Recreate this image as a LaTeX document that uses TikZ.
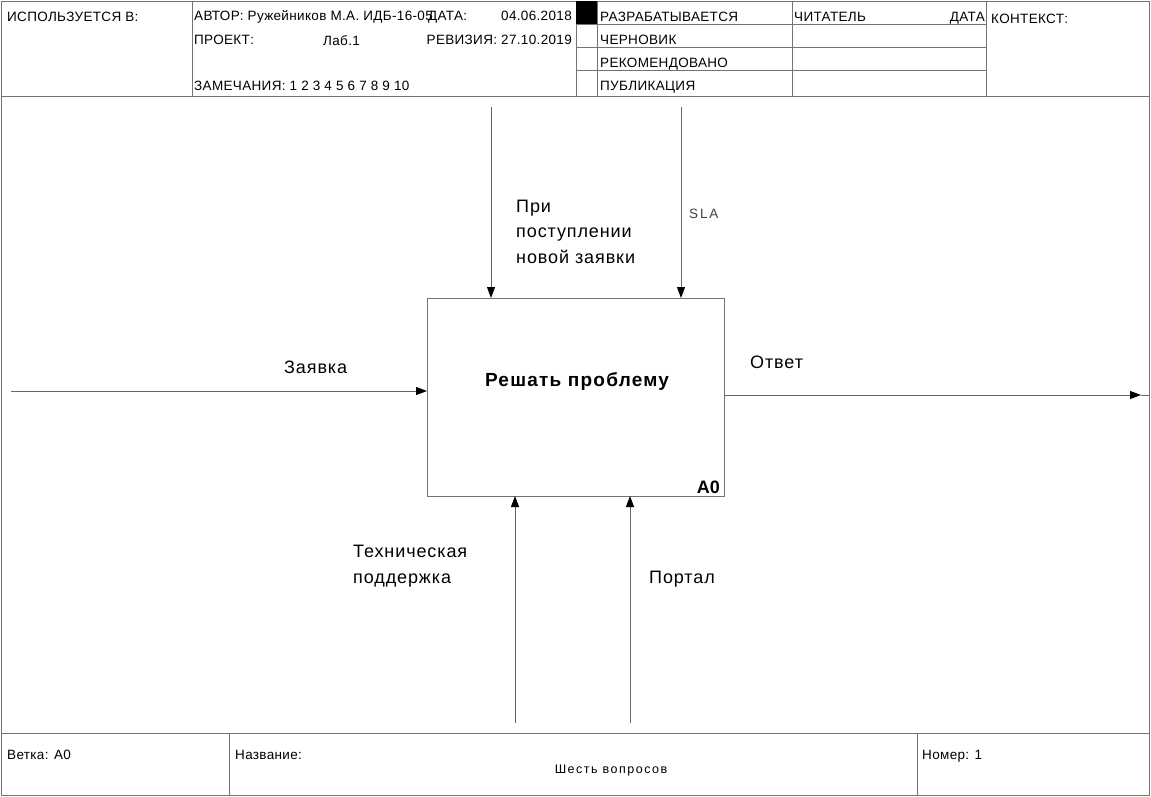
\documentclass[tikz,border=0pt]{standalone}
\usepackage{fontspec}
\setmainfont{Liberation Sans}
\usetikzlibrary{arrows.meta}
\begin{document}
\begin{tikzpicture}[x=1pt,y=-1pt,
  frame/.style={draw=black!55,line width=0.9pt},
  grid/.style={draw=black!55,line width=0.8pt},
  small/.style={font=\fontsize{13.5}{15}\selectfont\addfontfeatures{LetterSpace=2.5},inner sep=0pt,anchor=base west},
  label/.style={font=\fontsize{18}{25.5}\selectfont\addfontfeatures{LetterSpace=5},inner sep=0pt,anchor=base west,align=left},
  flow/.style={draw=black!60,line width=0.9pt,-{Triangle[length=11pt,width=8pt,color=black]}}]
\useasboundingbox (0,0) rectangle (1151,796);
% outer frame and title blocks
\draw[frame] (1,1) rectangle (1149,795);
\draw[frame] (1,96) -- (1149,96);
\draw[frame] (1,733) -- (1149,733);
\draw[grid] (192,1) -- (192,96);
\draw[grid] (576,1) -- (576,96);
\draw[grid] (597,1) -- (597,96);
\draw[grid] (792,1) -- (792,96);
\draw[grid] (986,1) -- (986,96);
\foreach \yy in {24,47,70} \draw[grid] (576,\yy) -- (986,\yy);
\fill[black] (576,1) rectangle (597,24);
\draw[grid] (229,733) -- (229,795);
\draw[grid] (917,733) -- (917,795);

% header texts
\node[small] (used) at (7,21) {ИСПОЛЬЗУЕТСЯ В:};
\node[small] (author) at (194,20) {АВТОР: Ружейников М.А. ИДБ-16-05};
\node[small] (date) at (428,20) {ДАТА:};
\node[small,anchor=base east] (dateval) at (572,20) {04.06.2018};
\node[small] (proj) at (194,44) {ПРОЕКТ:};
\node[small] (projval) at (323,45) {Лаб.1};
\node[small,anchor=base east] (rev) at (572,44) {РЕВИЗИЯ: 27.10.2019};
\node[small] (notes) at (194,90) {ЗАМЕЧАНИЯ: 1 2 3 4 5 6 7 8 9 10};
\node[small] (st1) at (600,21) {РАЗРАБАТЫВАЕТСЯ};
\node[small] (st2) at (600,44) {ЧЕРНОВИК};
\node[small] (st3) at (600,67) {РЕКОМЕНДОВАНО};
\node[small] (st4) at (600,90) {ПУБЛИКАЦИЯ};
\node[small] (reader) at (794,21) {ЧИТАТЕЛЬ};
\node[small,anchor=base east] (rdate) at (985,21) {ДАТА};
\node[small] (ctx) at (991,23) {КОНТЕКСТ:};

% footer texts
\node[small] (node) at (7,759) {Ветка: A0};
\node[small] (title) at (235,759) {Название:};
\node[small,anchor=base,font=\fontsize{12.5}{14}\selectfont\addfontfeatures{LetterSpace=12}] (titleval) at (611,773) {Шесть вопросов};
\node[small] (num) at (922,759) {Номер: 1};

% activity box
\node[draw=black!55,line width=0.9pt,minimum width=297pt,minimum height=198pt,inner sep=0pt,anchor=north west] (box) at (427,298) {};
\node[font=\fontsize{19}{21}\bfseries\addfontfeatures{LetterSpace=6.5},inner sep=0pt] (boxtxt) at (577,381) {Решать проблему};
\node[font=\fontsize{18}{20}\bfseries,inner sep=0pt,anchor=south east] (boxid) at (720,494) {A0};

% arrow end points
\coordinate (inS) at (11,391);
\coordinate (inE) at (427,391);
\coordinate (outS) at (724,395);
\coordinate (outE) at (1141,395);
\coordinate (outF) at (1149,395);
\coordinate (c1S) at (491,107);
\coordinate (c1E) at (491,298);
\coordinate (c2S) at (681,107);
\coordinate (c2E) at (681,298);
\coordinate (m1S) at (515,723);
\coordinate (m1E) at (515,496);
\coordinate (m2S) at (630,723);
\coordinate (m2E) at (630,496);

\draw[flow] (inS) -- (inE);
\draw[flow] (outS) -- (outE);
\draw[draw=black!60,line width=0.9pt] (outE) -- (outF);
\draw[flow] (c1S) -- (c1E);
\draw[flow] (c2S) -- (c2E);
\draw[flow] (m1S) -- (m1E);
\draw[flow] (m2S) -- (m2E);

% arrow labels
\node[label] (lin) at (284,373) {Заявка};
\node[label] (lout) at (750,368) {Ответ};
\node[label] (lc1) at (516,263) {При\\поступлении\\новой заявки};
\node[small,text=black!75,font=\fontsize{13.5}{15}\selectfont\addfontfeatures{LetterSpace=14}] (lc2) at (689,218) {SLA};
\node[label] (lm1) at (353,583) {Техническая\\поддержка};
\node[label] (lm2) at (649,583) {Портал};
\end{tikzpicture}
\end{document}
